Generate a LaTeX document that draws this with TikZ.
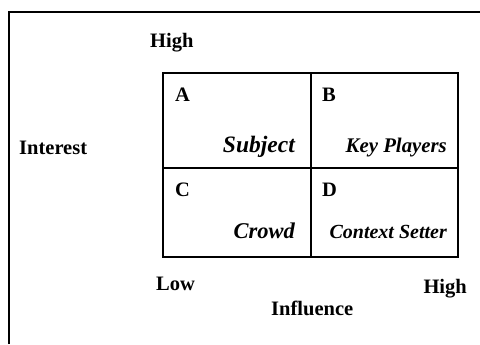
\documentclass[tikz,border=0pt]{standalone}
\usepackage{fontspec}
\setmainfont{Liberation Serif}
\usetikzlibrary{positioning}

\begin{document}
\begin{tikzpicture}[x=1bp,y=-1bp]
        \tikzset{lbl/.style = {font=\fontsize{20.5bp}{25bp}\selectfont\bfseries, inner sep=0},
                 tag/.style = {font=\fontsize{#1}{25bp}\selectfont\bfseries\itshape, inner sep=0, anchor=base east},
                 cell/.style = {draw, line width=2bp, inner sep=0, anchor=north west}}
        \useasboundingbox (0,0) rectangle (480,344);
        \draw[line width=1.5bp] (9,344) -- (9,12) -- (480,12);
        % quadrants
        \node[cell, minimum width=148bp, minimum height=95bp] (A) at (162,72) {};
        \node[cell, minimum width=147bp, minimum height=95bp] (B) at (310,72) {};
        \node[cell, minimum width=148bp, minimum height=89bp] (C) at (162,167) {};
        \node[cell, minimum width=147bp, minimum height=89bp] (D) at (310,167) {};
        \node[lbl, anchor=north west] (la) at ([shift={(13,16)}]A.north west) {A};
        \node[lbl, anchor=north west] (lb) at ([shift={(12,16)}]B.north west) {B};
        \node[lbl, anchor=north west] (lc) at ([shift={(13,16)}]C.north west) {C};
        \node[lbl, anchor=north west] (ld) at ([shift={(12,16)}]D.north west) {D};
        \node[tag=23.5bp] (subject) at (295,152) {Subject};
        \node[tag=20.8bp] (key) at (447,152) {Key Players};
        \node[tag=22.5bp] (crowd) at (295,238) {Crowd};
        \node[tag=20bp] (context) at (447,238) {Context Setter};
        % axes
        \node[lbl, anchor=base west] (hightop) at (150,47) {High};
        \node[lbl, anchor=base west] (interest) at (19,154) {Interest};
        \node[lbl, anchor=base west] (low) at (156,290) {Low};
        \node[lbl, anchor=base east] (highright) at (467,293) {High};
        \node[lbl, anchor=base west] (influence) at (271,315) {Influence};
\end{tikzpicture}
\end{document}
